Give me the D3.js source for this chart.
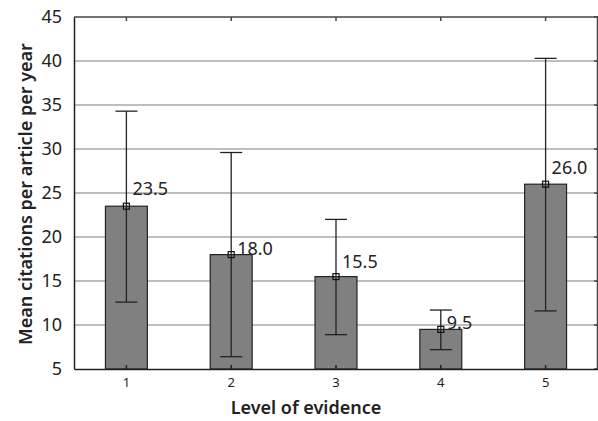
<!DOCTYPE html>
<html>
<head>
<meta charset="utf-8">
<script src="https://cdn.jsdelivr.net/npm/d3@7"></script>
<style>
  body { margin: 0; background: #fff; }
  text { font-family: "Noto Sans", "Open Sans", sans-serif; }
</style>
</head>
<body>
<svg id="chart"></svg>
<script>
const levels = ["1", "2", "3", "4", "5"]
const means = [23.5, 18.0, 15.5, 9.5, 26.0]
const upper = [34.3, 29.6, 22.0, 11.7, 40.3]
const lower = [12.6, 6.4, 8.9, 7.2, 11.6]
const valueLabels = ["23.5", "18.0", "15.5", "9.5", "26.0"]
const yTicks = [5, 10, 15, 20, 25, 30, 35, 40, 45]

// label offsets (px above the mean marker)
const labelLift = [11, 0, 9, 0, 10]

const width = 598, height = 421
const margin = {top: 17, right: 0, bottom: 52, left: 74}
const w = width - margin.left - margin.right
const h = height - margin.top - margin.bottom

const svg = d3.select("#chart")
  .attr("width", width)
  .attr("height", height)

const g = svg.append("g")
  .attr("transform", `translate(${margin.left},${margin.top})`)

const x = d3.scaleBand().domain(levels).range([0, w]).paddingInner(0).paddingOuter(0)
const y = d3.scaleLinear().domain([5, 45]).range([h, 0])
const bw = x.bandwidth() * 0.4
const cx = d => x(d) + x.bandwidth() / 2

// grid
g.selectAll(".grid").data(yTicks.slice(1, -1)).join("line")
  .attr("x1", 0).attr("x2", w)
  .attr("y1", d => y(d)).attr("y2", d => y(d))
  .attr("stroke", "#a8a8a8").attr("stroke-width", 1.5)

// frame
g.append("line").attr("x1", 0).attr("x2", w).attr("y1", 0).attr("y2", 0)
  .attr("stroke", "#444").attr("stroke-width", 1.5)
g.append("line").attr("x1", w - 0.5).attr("x2", w - 0.5).attr("y1", 0).attr("y2", h)
  .attr("stroke", "#444").attr("stroke-width", 1.5)

// inward ticks top/bottom/right
g.selectAll(".tt").data(levels).join("line")
  .attr("x1", cx).attr("x2", cx).attr("y1", 0).attr("y2", 4)
  .attr("stroke", "#444").attr("stroke-width", 1.5)
g.selectAll(".rt").data(yTicks).join("line")
  .attr("x1", w).attr("x2", w - 4).attr("y1", d => y(d)).attr("y2", d => y(d))
  .attr("stroke", "#444").attr("stroke-width", 1.5)

// bars
g.selectAll(".bar").data(levels).join("rect")
  .attr("x", d => cx(d) - bw / 2)
  .attr("width", bw)
  .attr("y", (d, i) => y(means[i]))
  .attr("height", (d, i) => h - y(means[i]))
  .attr("fill", "#808080")
  .attr("stroke", "#222")
  .attr("stroke-width", 1.2)

g.selectAll(".bt").data(levels).join("line")
  .attr("x1", cx).attr("x2", cx).attr("y1", h).attr("y2", h - 4)
  .attr("stroke", "#222").attr("stroke-width", 1.5)

// error bars
const cap = 11
const eb = g.selectAll(".err").data(levels).join("g")
eb.append("line")
  .attr("x1", cx).attr("x2", cx)
  .attr("y1", (d, i) => y(upper[i])).attr("y2", (d, i) => y(lower[i]))
  .attr("stroke", "#222").attr("stroke-width", 1.3)
eb.append("line")
  .attr("x1", d => cx(d) - cap).attr("x2", d => cx(d) + cap)
  .attr("y1", (d, i) => y(upper[i])).attr("y2", (d, i) => y(upper[i]))
  .attr("stroke", "#222").attr("stroke-width", 1.3)
eb.append("line")
  .attr("x1", d => cx(d) - cap).attr("x2", d => cx(d) + cap)
  .attr("y1", (d, i) => y(lower[i])).attr("y2", (d, i) => y(lower[i]))
  .attr("stroke", "#222").attr("stroke-width", 1.3)
eb.append("rect")
  .attr("x", d => cx(d) - 3).attr("width", 6)
  .attr("y", (d, i) => y(means[i]) - 3).attr("height", 6)
  .attr("fill", "none").attr("stroke", "#111").attr("stroke-width", 1.2)

g.selectAll(".vl").data(levels).join("text")
  .attr("x", d => cx(d) + 6)
  .attr("y", (d, i) => y(means[i]) - labelLift[i])
  .attr("font-size", 18)
  .attr("fill", "#222")
  .text((d, i) => valueLabels[i])

// axes
const yAxis = g.append("g")
  .call(d3.axisLeft(y).tickValues(yTicks).tickSize(0).tickPadding(12))
yAxis.select(".domain").attr("stroke", "#222").attr("stroke-width", 1.5)
yAxis.selectAll("text").attr("font-size", 18).attr("fill", "#222")
  .attr("font-family", "Noto Sans, sans-serif")

const xAxis = g.append("g")
  .attr("transform", `translate(0,${h})`)
  .call(d3.axisBottom(x).tickSize(0).tickPadding(9))
xAxis.select(".domain").attr("stroke", "#222").attr("stroke-width", 1.5)
xAxis.selectAll("text").attr("font-size", 13).attr("fill", "#222")
  .attr("font-family", "Noto Sans, sans-serif")

svg.append("text")
  .attr("x", 306)
  .attr("y", 414)
  .attr("text-anchor", "middle")
  .attr("font-size", 18)
  .attr("font-weight", 600)
  .attr("fill", "#222")
  .text("Level of evidence")

svg.append("text")
  .attr("transform", "translate(32,194) rotate(-90)")
  .attr("text-anchor", "middle")
  .attr("font-size", 18)
  .attr("font-weight", 600)
  .attr("fill", "#222")
  .text("Mean citations per article per year")
</script>
</body>
</html>
